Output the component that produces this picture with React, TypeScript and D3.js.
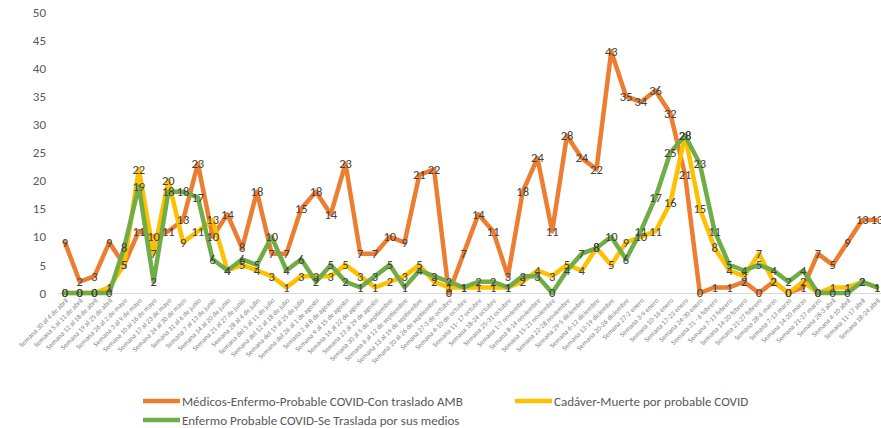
import React, { useEffect, useRef } from "react";
import * as d3 from "d3";

const weeks = [
  "Semana 30 al 4 de abril", "Semana 5 al 11 de abril", "Semana 12 al 18 de abril", "Semana 19 al 25 de abril",
  "Semana 26 al 2 de mayo", "Semana 3 al 9 de mayo", "Semana 10 al 16 de mayo", "Semana 17 al 23 de mayo",
  "Semana 24 al 30 de mayo", "Semana 31 al 6 de junio", "Semana 7 al 13 de junio", "Semana 14 al 20 de junio",
  "Semana 21 al 27 de junio", "Semana 28 al 4 de julio", "Semana del 5 al 11 de julio", "Semana del 12 al 18 de julio",
  "Semana del 19 al 25 de julio", "Semana del 26 al 1 de agosto", "Semana 2 al 8 de agosto", "Semana 9 al 15 de agosto",
  "Semana 16 al 22 de agosto", "Semana 23 al 29 de agosto", "Semana 30 al 5 de septiembre", "Semana 6 al 12 de septiembre",
  "Semana 13 al 19 de septiembre", "Semana 20 al 26 de septiembre", "Semana 27-3 de octubre", "Semana 4-10 de octubre",
  "Semana 11- 17 octubre", "Semana 18-24 octubre", "Semana 25-31 octubre", "Semana 1-7 noviembre",
  "Semana 8-14 noviembre", "Semana 15-21 noviembre", "Semana 22-28 noviembre", "Semana 29-5 diciembre",
  "Semana 6-12 diciembre", "Semana 13-19 diciembre", "Semana 20-26 diciembre", "Semana 27-2 enero",
  "Semana 3-9 enero", "Semana 10-16 enero", "Semana 17-23 enero", "Semana 24-30 enero",
  "Semana 31 - 6 febrero", "Semana 7-13 febrero", "Semana 14-20 febrero", "Semana 21-27 febrero",
  "Semana 28-6 marzo", "Semana 7-13 marzo", "Semana 14-20 marzo", "Semana 21-27 marzo",
  "Semana 28-3 abril", "Semana 4-10 abril", "Semana 11-17 abril", "Semana 18-24 abril",
];

const medicos = [9, 2, 3, 9, 5, 11, 10, 11, 13, 23, 10, 14, 8, 18, 7, 7, 15, 18, 14, 23, 7, 7, 10, 9, 21, 22, 0, 7,
  14, 11, 3, 18, 24, 11, 28, 24, 22, 43, 35, 34, 36, 32, 21, 0, 1, 1, 2, 0, 2, 0, 1, 7, 5, 9, 13, 13];
const cadaver = [0, 0, 0, 1, 5, 22, 7, 20, 9, 11, 13, 4, 5, 4, 3, 1, 3, 3, 3, 5, 3, 1, 2, 3, 5, 2, 1, 1,
  1, 1, 1, 2, 4, 3, 5, 4, 8, 5, 9, 10, 11, 16, 28, 15, 8, 4, 3, 7, 2, 0, 2, 0, 1, 1, 2, 1];
const enfermo = [0, 0, 0, 0, 8, 19, 2, 18, 18, 17, 6, 4, 6, 5, 10, 4, 6, 2, 5, 2, 1, 3, 5, 1, 4, 3, 2, 1,
  2, 2, 1, 3, 3, 0, 4, 7, 8, 10, 6, 11, 17, 25, 28, 23, 11, 5, 4, 5, 4, 2, 4, 0, 0, 0, 2, 1];

const series = [
  { name: "Médicos-Enfermo-Probable COVID-Con traslado AMB", values: medicos, color: "#ED7D31" },
  { name: "Cadáver-Muerte por probable COVID", values: cadaver, color: "#FFC000" },
  { name: "Enfermo Probable COVID-Se Traslada por sus medios", values: enfermo, color: "#70AD47" },
];

const FONT = "Carlito, Lato, 'Open Sans', sans-serif";

export default function App() {
  const ref = useRef<SVGSVGElement>(null);

  useEffect(() => {
    const svg = d3.select(ref.current);
    svg.selectAll("*").remove();

    const x = d3.scalePoint<string>().domain(weeks).range([65, 877]);
    const y = d3.scaleLinear().domain([0, 50]).range([293, 12]);

    // y axis labels only
    const yAxis = svg.append("g")
      .attr("transform", "translate(46,0)")
      .call(d3.axisLeft(y).tickValues(d3.range(0, 51, 5)).tickSize(0).tickPadding(0));
    yAxis.select(".domain").remove();
    yAxis.selectAll("text")
      .style("font-family", FONT)
      .style("font-size", "13px")
      .attr("fill", "#595959");

    // x axis
    const xAxis = svg.append("g")
      .attr("transform", "translate(0,293)")
      .call(d3.axisBottom(x).tickSize(0).tickPadding(0));
    xAxis.select(".domain").attr("stroke", "#d9d9d9").attr("d", "M58,0.5H881");
    xAxis.selectAll("text")
      .style("font-family", FONT)
      .style("font-size", "7px")
      .attr("fill", "#7f7f7f")
      .attr("text-anchor", "end")
      .attr("dy", "0")
      .attr("y", 0)
      .attr("transform", "translate(3,8) rotate(-45)");

    const line = d3.line<number>()
      .x((d, i) => x(weeks[i]) as number)
      .y((d) => y(d));

    svg.append("g")
      .selectAll("path")
      .data(series)
      .join("path")
      .attr("d", (s) => line(s.values))
      .attr("fill", "none")
      .attr("stroke", (s) => s.color)
      .attr("stroke-width", 4.5)
      .attr("stroke-linejoin", "round")
      .attr("stroke-linecap", "round");

    // data labels
    series.forEach((s) => {
      svg.append("g")
        .selectAll("text")
        .data(s.values)
        .join("text")
        .attr("x", (d, i) => x(weeks[i]) as number)
        .attr("y", (d) => y(d))
        .attr("dy", "0.35em")
        .attr("text-anchor", "middle")
        .style("font-family", FONT)
        .style("font-size", "12.5px")
        .attr("fill", "#404040")
        .text((d) => d);
    });

    // legend
    const legendPos = [
      { x: 143, y: 401 },
      { x: 515, y: 401 },
      { x: 143, y: 420 },
    ];
    const legend = svg.append("g")
      .selectAll("g")
      .data(series)
      .join("g")
      .attr("transform", (s, i) => `translate(${legendPos[i].x},${legendPos[i].y})`);
    legend.append("line")
      .attr("x1", 0).attr("x2", 37)
      .attr("stroke", (s) => s.color)
      .attr("stroke-width", 4.5);
    legend.append("text")
      .attr("x", 39)
      .attr("dy", "0.35em")
      .style("font-family", FONT)
      .style("font-size", "13px")
      .attr("fill", "#595959")
      .text((s) => s.name);
  }, []);

  return (
    <div style={{ position: "absolute", left: 0, top: 0 }}>
      <svg ref={ref} width={881} height={428} style={{ display: "block", background: "#fff" }} />
    </div>
  );
}
